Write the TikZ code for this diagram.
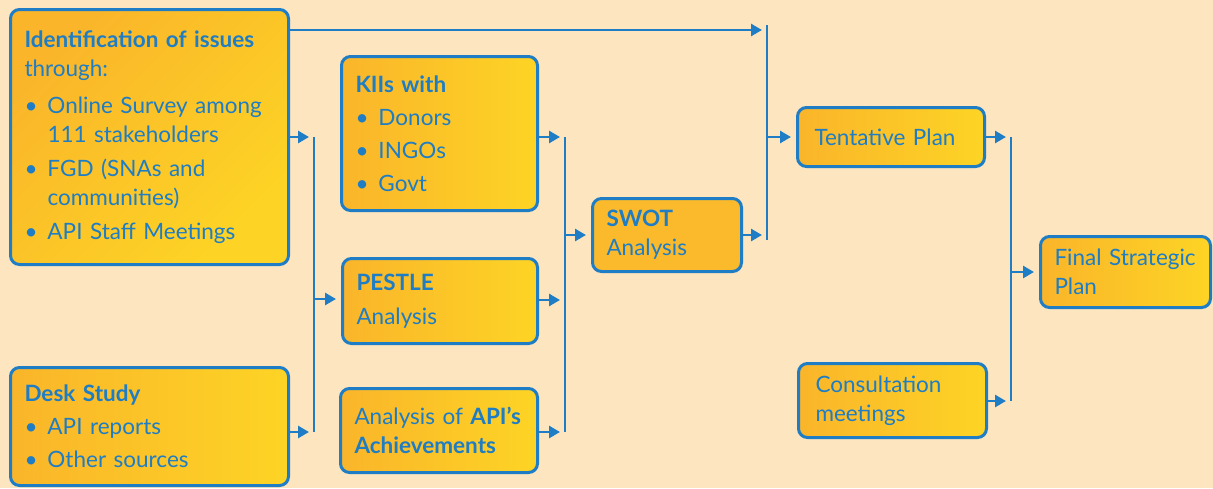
\documentclass[tikz,border=0pt]{standalone}
\usepackage{fontspec}
\setmainfont{Lato}
\usetikzlibrary{arrows.meta}
\definecolor{bgpeach}{HTML}{FDE5BF}
\definecolor{boxorange}{HTML}{FAB52A}
\definecolor{boxyellow}{HTML}{FDD425}
\definecolor{swotorange}{HTML}{FBBA2B}
\definecolor{lineblue}{HTML}{1E7DC4}
\newcommand{\bitem}{\makebox[23pt][l]{\textbullet}}
\newcommand{\bcont}{\hspace*{23pt}}

\begin{document}
\begin{tikzpicture}[x=1pt, y=-1pt,
  box/.style={draw=lineblue, line width=3pt, rounded corners=9pt, left color=boxorange, right color=boxyellow,
    text=lineblue, align=left, inner xsep=14pt, inner ysep=0pt, font=\fontsize{22.5}{29}\selectfont},
  link/.style={draw=lineblue, line width=2.7pt, shorten >=5pt},
  bar/.style={draw=lineblue, line width=2.7pt},
  >={Triangle[length=11pt,width=12pt]}]
\fill[bgpeach] (0,0) rectangle (1213,488);

\node [box, shading angle=45, text width=250pt, minimum height=255pt] (Ident) at (149.5,137)
  {\mbox{\textbf{Identification of issues}}\\through:\\[8pt]
   \bitem\mbox{Online Survey among}\\\bcont 111 stakeholders\\[5pt]
   \bitem FGD (SNAs and\\\bcont communities)\\[5pt]
   \bitem API Staff Meetings};
\node [box, text width=250pt, minimum height=118pt] (Desk) at (149.5,426.5)
  {\textbf{Desk Study}\\[4pt]\bitem API reports\\[4pt]\bitem Other sources};
\node [box, text width=168pt, minimum height=154pt] (KII) at (439.5,133.5)
  {\textbf{KIIs with}\\[4pt]\bitem Donors\\[4pt]\bitem INGOs\\[4pt]\bitem Govt};
\node [box, text width=167pt, minimum height=85pt] (Pestle) at (440,301)
  {\textbf{PESTLE}\\[5pt]Analysis};
\node [box, text width=169pt, minimum height=84pt] (Achv) at (439,430.5)
  {\mbox{Analysis of \textbf{API’s}}\\\textbf{Achievements}};
\node [box, left color=swotorange, right color=swotorange, text width=121pt, minimum height=73pt] (Swot) at (667,235)
  {\textbf{SWOT}\\Analysis};
\node [box, minimum height=59pt, inner xsep=17pt, text width=153pt] (Tent) at (891,137)
  {Tentative Plan};
\node [box, text width=154pt, minimum height=74pt, inner xsep=17pt] (Cons) at (892.5,400.5)
  {Consultation\\meetings};
\node [box, text width=142pt, minimum height=71pt] (Final) at (1125.5,272)
  {\mbox{Final Strategic}\\Plan};

\coordinate (B1t) at (314,137);
\coordinate (B1m) at (314,299);
\coordinate (B1b) at (314,432);
\coordinate (B2t) at (565,137);
\coordinate (B2m) at (565,235);
\coordinate (B2p) at (565,300);
\coordinate (B2b) at (565,432);
\coordinate (B3t) at (767,25);
\coordinate (B3a) at (767,30);
\coordinate (B3m) at (767,137);
\coordinate (B3b) at (767,240);
\coordinate (B4t) at (1011,137);
\coordinate (B4m) at (1011,272);
\coordinate (B4b) at (1011,401);

\draw[bar] (B1t) -- (B1b);
\draw[bar] (B2t) -- (B2b);
\draw[bar] (B3t) -- (B3b);
\draw[bar] (B4t) -- (B4b);

\draw[link, ->] (Ident.east) -- (B1t);
\draw[link, ->] (Desk.east |- B1b) -- (B1b);
\draw[link, ->] (B1m) -- (Pestle.west |- B1m);
\draw[link, ->] (KII.east |- B2t) -- (B2t);
\draw[link, ->] (Pestle.east |- B2p) -- (B2p);
\draw[link, ->] (Achv.east |- B2b) -- (B2b);
\draw[link, ->] (B2m) -- (Swot.west);
\draw[link, ->] (Ident.east |- B3a) -- (B3a);
\draw[link, ->] (Swot.east) -- (B3m |- Swot.east);
\draw[link, ->] (B3m) -- (Tent.west);
\draw[link, ->] (Tent.east) -- (B4t);
\draw[link, ->] (Cons.east |- B4b) -- (B4b);
\draw[link, ->] (B4m) -- (Final.west);
\end{tikzpicture}
\end{document}
